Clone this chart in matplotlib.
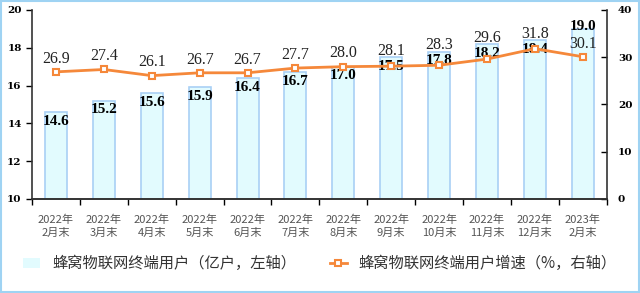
import matplotlib.pyplot as plt
from matplotlib.patches import Rectangle, Patch

plt.rcParams['font.family'] = ['Noto Sans CJK SC', 'DejaVu Sans']

# 数据
months = ['2022年\n2月末', '2022年\n3月末', '2022年\n4月末', '2022年\n5月末', '2022年\n6月末',
          '2022年\n7月末', '2022年\n8月末', '2022年\n9月末', '2022年\n10月末', '2022年\n11月末',
          '2022年\n12月末', '2023年\n2月末']
users = [14.6, 15.2, 15.6, 15.9, 16.4, 16.7, 17.0, 17.5, 17.8, 18.2, 18.4, 19.0]
growth = [26.9, 27.4, 26.1, 26.7, 26.7, 27.7, 28.0, 28.1, 28.3, 29.6, 31.8, 30.1]

bar_face = '#e2fbfe'
bar_edge = '#a9d0f5'
line_col = '#f5883a'

fig = plt.figure(figsize=(6.4, 2.93), dpi=100)
ax = fig.add_axes([0.05, 0.321, 0.898, 0.645])
ax2 = ax.twinx()

x = list(range(len(months)))
ax.bar(x, users, width=0.46, color=bar_face, edgecolor=bar_edge, linewidth=1.2)
ax.set_ylim(10, 20)
ax.set_xlim(-0.5, len(months) - 0.5)
ax.set_yticks(range(10, 21, 2))
ax.set_xticks(x)
ax.set_xticklabels(months, fontsize=8, color='#555555', linespacing=1.35)
ax.set_xticks([i - 0.5 for i in range(len(months) + 1)], minor=True)
ax.tick_params(axis='x', which='major', length=0, pad=11)
ax.tick_params(axis='x', which='minor', length=4, direction='out', width=1)
ax.tick_params(axis='y', length=4, direction='out', labelsize=7.5, width=1)
for lab in ax.get_yticklabels():
    lab.set_fontweight('bold')
    lab.set_family('DejaVu Serif')

ln, = ax2.plot(x, growth, color=line_col, linewidth=2, marker='s', markersize=5,
               markerfacecolor='white', markeredgecolor=line_col, markeredgewidth=1.5)
ax2.set_ylim(0, 40)
ax2.set_yticks(range(0, 41, 10))
ax2.tick_params(axis='y', length=4, direction='in', labelsize=7.5, width=1, pad=8)
for lab in ax2.get_yticklabels():
    lab.set_fontweight('bold')
    lab.set_family('DejaVu Serif')

# 数值标签：柱标签放在柱顶内侧，增速标签放在折线点上方并避开柱顶
last = len(users) - 1
for i, (u, g) in enumerate(zip(users, growth)):
    bar_top_r = (u - 10) * 4
    if i == last:
        ax.text(i, u + 0.15, f'{u:.1f}', ha='center', va='center', fontsize=11,
                fontweight='bold', family='Liberation Serif', color='black')
        gy = g + 2.8
    else:
        ax.text(i, u - 0.48, f'{u:.1f}', ha='center', va='center', fontsize=11,
                fontweight='bold', family='Liberation Serif', color='black')
        gy = max(g + 2.8, bar_top_r + 1.3)
    ax2.text(i, gy, f'{g:.1f}', ha='center', va='center', fontsize=11.5,
             family='Liberation Serif', color='#222222')

for a in (ax, ax2):
    a.spines['top'].set_visible(False)
    for s in a.spines.values():
        s.set_linewidth(1.2)
        s.set_color('#333333')
ax.spines['right'].set_visible(False)
ax2.spines['left'].set_visible(False)

bar_handle = Patch(facecolor=bar_face, edgecolor='none')
fig.legend(handles=[bar_handle, ln],
           labels=['蜂窝物联网终端用户（亿户，左轴）', '蜂窝物联网终端用户增速（%，右轴）'],
           loc='center', bbox_to_anchor=(0.5, 0.1), ncol=2,
           frameon=False, fontsize=11, handlelength=1.1, handletextpad=0.8,
           columnspacing=2.2, labelcolor='#333333')

# 外框
fig.patches.append(Rectangle((0.002, 0.003), 0.996, 0.994, transform=fig.transFigure,
                             fill=False, edgecolor='#9fd3f3', linewidth=1.5))

fig.savefig('out.png', dpi=100)
